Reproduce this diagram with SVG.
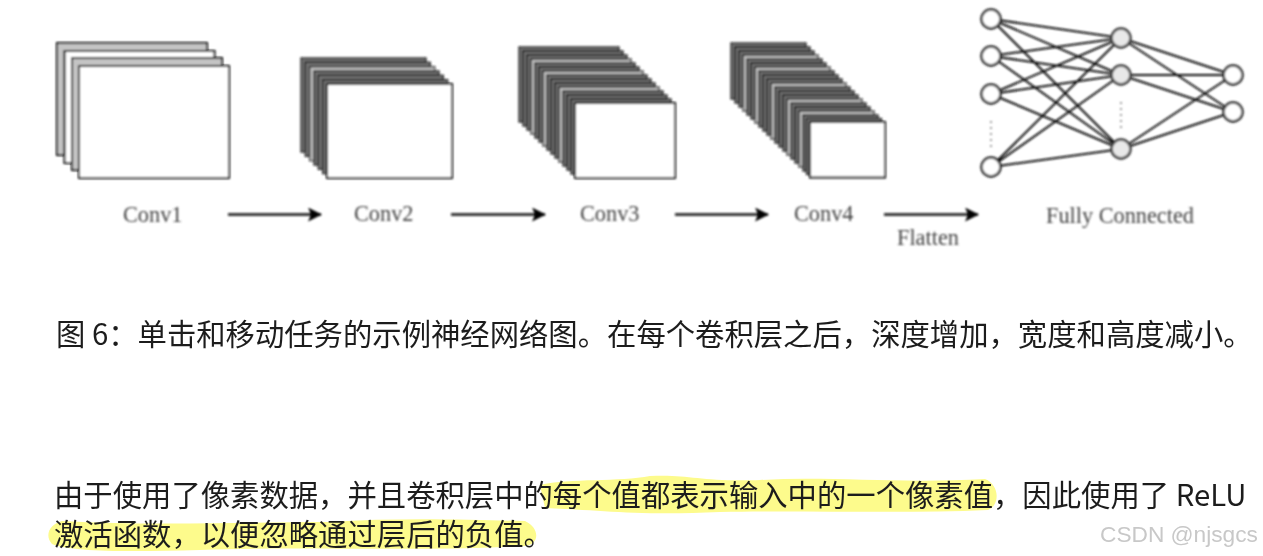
<svg xmlns="http://www.w3.org/2000/svg" width="1263" height="556" viewBox="0 0 1263 556">
<defs>
<style>
.l1{fill:#c4c4c4;stroke:#000;stroke-width:2}
.w{fill:#fff;stroke:#000;stroke-width:2}
.d{fill:#707070;stroke:#000;stroke-width:1.200}
.e{fill:#c0c0c0;stroke:#000;stroke-width:1.200}
.f{fill:#fff;stroke:#000;stroke-width:2}
.lab{font-family:"Liberation Serif",serif;font-size:22.300px;fill:#444}
.cn{font-family:"Noto Sans CJK SC","Noto Sans",sans-serif;font-size:29.350px;fill:#1d1d1d}
.edge{stroke:#111;stroke-width:2;fill:none}
.arr{stroke:#111;stroke-width:2.400;fill:none;marker-end:url(#ah)}
.in{fill:#fff;stroke:#222;stroke-width:2.400}
.hid{fill:#e8e8e8;stroke:#333;stroke-width:2.400}
.dots{stroke:#777;stroke-width:1.500;stroke-dasharray:2 4;fill:none}
</style>
<filter id="b" x="-5%" y="-5%" width="110%" height="110%"><feGaussianBlur stdDeviation="0.9"/></filter>
<filter id="t" x="-2%" y="-10%" width="104%" height="120%"><feGaussianBlur stdDeviation="0.35"/></filter>
<marker id="ah" viewBox="0 0 14 14" refX="13" refY="7" markerUnits="userSpaceOnUse" markerWidth="15" markerHeight="14" orient="auto"><path d="M0 0L14 7L0 14L3 7Z" fill="#000"/></marker>
</defs>
<rect width="1263" height="556" fill="#fff"/>
<g filter="url(#b)">
<g id="conv1">
<rect class="l1" x="57" y="43" width="150" height="112"/>
<rect class="w" x="64.500" y="51" width="150" height="112"/>
<rect class="l1" x="72" y="58" width="150" height="112"/>
<rect class="w" x="79" y="66" width="150" height="112"/>
<text class="lab" x="123" y="222">Conv1</text>
</g>
<g id="conv2">
<rect class="d" x="301" y="58" width="125" height="94"/>
<rect class="d" x="305.300" y="62.300" width="125" height="94"/>
<rect class="e" x="309.700" y="66.700" width="125" height="94"/>
<rect class="d" x="314" y="71" width="125" height="94"/>
<rect class="d" x="318.300" y="75.300" width="125" height="94"/>
<rect class="d" x="322.700" y="79.700" width="125" height="94"/>
<rect class="f" x="327" y="84" width="125" height="94"/>
<text class="lab" x="354" y="221">Conv2</text>
</g>
<g id="conv3">
<rect class="d" x="519" y="47" width="100" height="75"/>
<rect class="d" x="523" y="51" width="100" height="75"/>
<rect class="d" x="527" y="55" width="100" height="75"/>
<rect class="e" x="531" y="59" width="100" height="75"/>
<rect class="d" x="535" y="63" width="100" height="75"/>
<rect class="d" x="539" y="67" width="100" height="75"/>
<rect class="e" x="543" y="71" width="100" height="75"/>
<rect class="d" x="547" y="75" width="100" height="75"/>
<rect class="d" x="551" y="79" width="100" height="75"/>
<rect class="d" x="555" y="83" width="100" height="75"/>
<rect class="e" x="559" y="87" width="100" height="75"/>
<rect class="d" x="563" y="91" width="100" height="75"/>
<rect class="d" x="567" y="95" width="100" height="75"/>
<rect class="d" x="571" y="99" width="100" height="75"/>
<rect class="f" x="575" y="103" width="100" height="75"/>
<text class="lab" x="580" y="221">Conv3</text>
</g>
<g id="conv4">
<rect class="d" x="731" y="43" width="75" height="56"/>
<rect class="d" x="735" y="47" width="75" height="56"/>
<rect class="d" x="739" y="51" width="75" height="56"/>
<rect class="e" x="743" y="55" width="75" height="56"/>
<rect class="d" x="747" y="59" width="75" height="56"/>
<rect class="d" x="751" y="63" width="75" height="56"/>
<rect class="e" x="755" y="67" width="75" height="56"/>
<rect class="d" x="759" y="71" width="75" height="56"/>
<rect class="d" x="763" y="75" width="75" height="56"/>
<rect class="d" x="767" y="79" width="75" height="56"/>
<rect class="e" x="771" y="83" width="75" height="56"/>
<rect class="d" x="775" y="87" width="75" height="56"/>
<rect class="d" x="779" y="91" width="75" height="56"/>
<rect class="d" x="783" y="95" width="75" height="56"/>
<rect class="e" x="787" y="99" width="75" height="56"/>
<rect class="d" x="791" y="103" width="75" height="56"/>
<rect class="d" x="795" y="107" width="75" height="56"/>
<rect class="e" x="799" y="111" width="75" height="56"/>
<rect class="d" x="803" y="115" width="75" height="56"/>
<rect class="d" x="806.500" y="118.500" width="75" height="56"/>
<rect class="f" x="810" y="122" width="75" height="55.500"/>
<text class="lab" x="794" y="221">Conv4</text>
</g>
<g id="connectors">
<path class="arr" d="M228 214.500H321"/>
<path class="arr" d="M451 214.500H545"/>
<path class="arr" d="M675 214.500H768"/>
<path class="arr" d="M884 214.500H978"/>
<path class="edge" d="M991 19L1121 38M991 19L1121 75M991 19L1121 149M991 56L1121 38M991 56L1121 75M991 56L1121 149M991 94L1121 38M991 94L1121 75M991 94L1121 149M991 167L1121 38M991 167L1121 75M991 167L1121 149M1121 38L1233 75M1121 38L1233 112M1121 75L1233 75M1121 75L1233 112M1121 149L1233 75M1121 149L1233 112"/>
<path class="dots" d="M991 121V148M1121 102V129"/>
</g>
<g id="flatten"><text class="lab" x="897" y="245">Flatten</text></g>
<g id="fc">
<circle id="i1" class="in" cx="991" cy="19" r="9.500"/>
<circle id="i2" class="in" cx="991" cy="56" r="9.500"/>
<circle id="i3" class="in" cx="991" cy="94" r="9.500"/>
<circle id="i4" class="in" cx="991" cy="167" r="9.500"/>
<circle id="h1" class="hid" cx="1121" cy="38" r="9.500"/>
<circle id="h2" class="hid" cx="1121" cy="75" r="9.500"/>
<circle id="h3" class="hid" cx="1121" cy="149" r="9.500"/>
<circle id="o1" class="in" cx="1233" cy="75" r="9.500"/>
<circle id="o2" class="in" cx="1233" cy="112" r="9.500"/>
<text class="lab" x="1046" y="223">Fully Connected</text>
</g>
</g>
<g id="highlights" fill="#fdfb8c">
<path d="M540 485C570 478 620 482 650 476C690 474 700 482 760 480C830 476 900 484 985 479C1000 485 1000 505 988 510C900 514 800 510 720 512C640 516 600 510 545 508Z"/>
<path d="M62 521C150 526 250 522 330 522C400 517 480 520 525 521C540 528 540 544 525 546C420 552 300 546 200 550C130 552 70 552 52 544C44 535 50 524 62 521Z"/>
</g>
<g id="text" filter="url(#t)">
<text class="cn" x="56" y="345">图 6：单击和移动任务的示例神经网络图。在每个卷积层之后，深度增加，宽度和高度减小。</text>
<text class="cn" x="54" y="506">由于使用了像素数据，并且卷积层中的每个值都表示输入中的一个像素值，因此使用了 ReLU</text>
<text class="cn" x="54" y="545">激活函数，以便忽略通过层后的负值。</text>
<text x="1100" y="542" font-family="Liberation Sans,sans-serif" font-size="22.700" fill="#c8c8c8">CSDN @njsgcs</text>
</g>
</svg>
